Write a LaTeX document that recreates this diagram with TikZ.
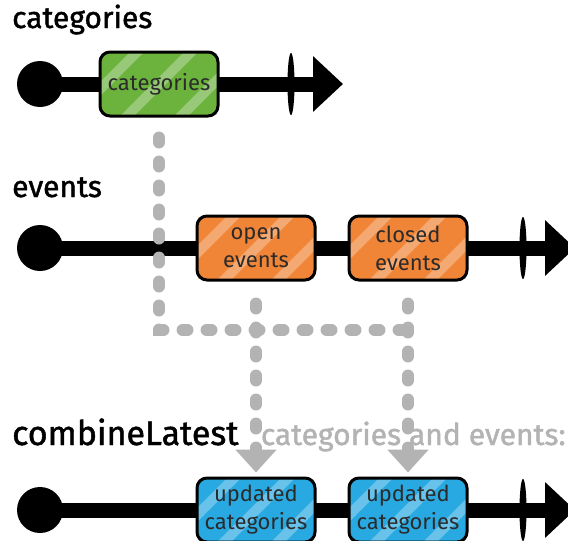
\documentclass[tikz,border=0pt]{standalone}
\usepackage{fontspec}
\setmainfont{Fira Sans}
\newfontfamily\headfont[FakeBold=1.4]{Fira Sans}
\usetikzlibrary{arrows.meta,shapes.geometric}
\definecolor{catgreen}{HTML}{6CB33E}
\definecolor{evorange}{HTML}{F08437}
\definecolor{updblue}{HTML}{29A9E1}
\definecolor{flowgray}{HTML}{B3B3B3}
\definecolor{inkdark}{HTML}{2B2B2B}
\tikzset{
  stream/.style={line width=15pt,-{Triangle[length=30pt,width=54pt]}},
  origin/.style={circle,fill=black,minimum size=46pt,inner sep=0pt},
  closing/.style={ellipse,fill=black,minimum width=7pt,minimum height=62pt,inner sep=0pt},
  marble/.style={rounded corners=10pt,draw=black,line width=3pt,
    minimum width=118pt,minimum height=64pt,inner sep=0pt,align=center,
    font=\fontsize{22}{28}\selectfont,text=inkdark,
    path picture={\foreach \s in {-34,20,74}
      \fill[white,opacity=.3,sharp corners]
        ([xshift=\s pt]path picture bounding box.south west)
        -- ++(14pt,0pt) -- ++(64pt,64pt) -- ++(-14pt,0pt) -- cycle;}},
  flow/.style={draw=flowgray,line width=12pt,line cap=round,
    dash pattern=on 5pt off 19pt},
  title/.style={anchor=base west,inner sep=0pt,font=\headfont\fontsize{30}{36}\selectfont},
}
\begin{document}
\begin{tikzpicture}[x=1pt,y=-1pt]
    \useasboundingbox (0,0) rectangle (568,541);

    % categories
    \node[title] (tcat) at (12,28) {categories};
    \coordinate (catend) at (343,84);
    \node[origin] (catstart) at (40,84) {};
    \draw[stream] (catstart.center) -- (catend);
    \node[closing] (catdone) at (291,84) {};
    \node[marble,fill=catgreen] (cat) at (159,84) {categories};

    % events
    \node[title] (tev) at (12,197) {events};
    \coordinate (evend) at (575,248);
    \node[origin] (evstart) at (40,248) {};
    \draw[stream] (evstart.center) -- (evend);
    \node[closing] (evdone) at (523,248) {};
    \node[marble,fill=evorange] (open) at (256,248) {open\\events};
    \node[marble,fill=evorange] (closed) at (408,248) {closed\\events};

    % combined
    \node[title,font=\headfont\fontsize{34}{40}\selectfont] (tcomb) at (12,445) {combineLatest};
    \node[title,text=flowgray] (tcomb2) at ([xshift=22pt]tcomb.base east)
        {categories and events:};
    \coordinate (upend) at (575,510);
    \node[origin] (upstart) at (40,510) {};
    \draw[stream] (upstart.center) -- (upend);
    \node[closing] (updone) at (523,510) {};
    \node[marble,fill=updblue] (upd1) at (256,510) {updated\\categories};
    \node[marble,fill=updblue] (upd2) at (408,510) {updated\\categories};

    % latest values flowing down
    \coordinate (join) at (408,330);
    \draw[flow] ([yshift=-20pt]cat.south) |- (join);
    \draw[flow,-{Triangle[length=23pt,width=40pt]}]
        ([yshift=-22pt]open.south) -- ([yshift=4pt]upd1.north);
    \draw[flow,-{Triangle[length=23pt,width=40pt]}]
        ([yshift=-22pt]closed.south) -- ([yshift=4pt]upd2.north);
\end{tikzpicture}
\end{document}
